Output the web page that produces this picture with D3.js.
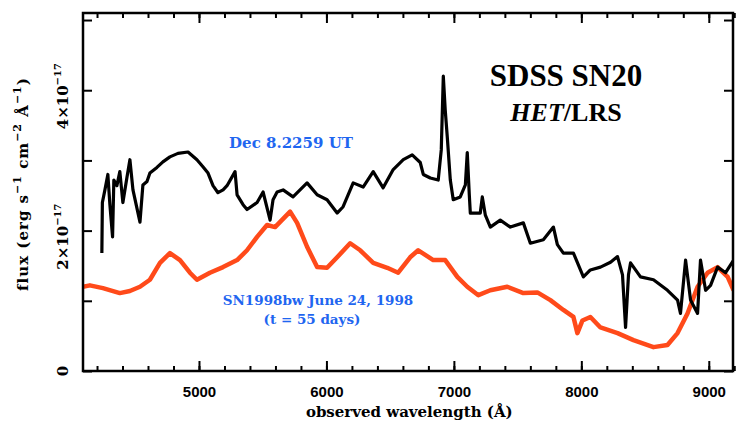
<!DOCTYPE html>
<html lang="en">
<head>
    <meta charset="UTF-8">
    <title>SDSS SN20 HET/LRS spectrum</title>
    <script src="https://d3js.org/d3.v7.min.js"></script>
    <style>
        body {
            margin: 0;
            padding: 0;
            background: #fff;
            overflow: hidden;
        }
        svg {
            display: block;
            font-family: "DejaVu Serif", serif;
        }
        .tick text {
            font-weight: bold;
        }
    </style>
</head>
<body>
    <svg id="chart" width="736" height="425"></svg>

    <script>
        // SDSS SN20 (black), wavelength in Angstrom, flux in units of 1e-17
        const sn20Wave = [4238, 4242, 4262, 4285, 4301, 4322, 4332, 4356, 4379, 4403, 4434, 4458, 4482, 4537,
            4560, 4592, 4615, 4670, 4717, 4772, 4835, 4914, 4984, 5031, 5071, 5110, 5149, 5189, 5220, 5283,
            5299, 5346, 5377, 5456, 5503, 5558, 5581, 5613, 5660, 5738, 5848, 5927, 6005, 6084, 6131, 6210,
            6288, 6367, 6445, 6524, 6603, 6673, 6736, 6760, 6815, 6877, 6901, 6917, 6932, 6948, 6972, 6995,
            7050, 7090, 7105, 7121, 7129, 7207, 7223, 7247, 7286, 7364, 7443, 7545, 7600, 7702, 7781, 7812,
            7859, 7938, 8016, 8071, 8150, 8229, 8284, 8323, 8347, 8370, 8386, 8464, 8566, 8676, 8755, 8778,
            8818, 8857, 8912, 8935, 8975, 9014, 9069, 9132, 9195];
        const sn20Flux = [1.68, 2.40, 2.58, 2.80, 2.37, 1.91, 2.72, 2.64, 2.84, 2.40, 2.75, 3.01, 2.58, 2.12,
            2.65, 2.70, 2.82, 2.90, 2.98, 3.05, 3.10, 3.12, 3.01, 2.91, 2.82, 2.64, 2.54, 2.58, 2.64, 2.84,
            2.51, 2.37, 2.30, 2.40, 2.55, 2.15, 2.44, 2.55, 2.58, 2.48, 2.68, 2.51, 2.44, 2.25, 2.34, 2.68,
            2.62, 2.84, 2.61, 2.87, 3.01, 3.08, 2.97, 2.80, 2.75, 2.72, 3.15, 4.20, 3.72, 3.34, 2.72, 2.44,
            2.48, 2.65, 3.11, 2.51, 2.25, 2.25, 2.48, 2.22, 2.05, 2.15, 2.05, 2.11, 1.82, 1.87, 2.05, 1.80,
            1.68, 1.68, 1.34, 1.44, 1.48, 1.55, 1.63, 1.37, 0.62, 1.37, 1.54, 1.34, 1.30, 1.15, 1.01, 0.82,
            1.58, 1.01, 0.82, 1.58, 1.15, 1.22, 1.48, 1.40, 1.58];

        // SN1998bw template (red)
        const bwWave = [4089, 4144, 4246, 4379, 4458, 4537, 4615, 4694, 4772, 4851, 4929, 4984, 5086, 5189,
            5299, 5377, 5456, 5534, 5597, 5715, 5770, 5848, 5927, 6005, 6084, 6186, 6265, 6367, 6477, 6563,
            6657, 6720, 6838, 6932, 7027, 7105, 7192, 7286, 7419, 7545, 7655, 7757, 7859, 7938, 7969, 8009,
            8071, 8150, 8284, 8409, 8566, 8676, 8755, 8833, 8912, 8991, 9069, 9148, 9195];
        const bwFlux = [1.20, 1.22, 1.18, 1.11, 1.14, 1.20, 1.30, 1.54, 1.68, 1.58, 1.40, 1.30, 1.40, 1.48,
            1.58, 1.72, 1.91, 2.08, 2.05, 2.27, 2.11, 1.77, 1.48, 1.47, 1.62, 1.82, 1.72, 1.54, 1.47, 1.40,
            1.62, 1.72, 1.58, 1.58, 1.34, 1.20, 1.08, 1.15, 1.20, 1.11, 1.12, 1.01, 0.87, 0.77, 0.54, 0.72,
            0.77, 0.62, 0.54, 0.44, 0.34, 0.37, 0.54, 0.82, 1.20, 1.40, 1.48, 1.34, 1.15];

        const xMajor = [5000, 6000, 7000, 8000, 9000];
        const xMinor = d3.range(4200, 9201, 200);
        const yMajor = [0, 1, 2, 3, 4, 5];
        const yLabels = {0: "0", 2: "2×10", 4: "4×10"};

        const width = 736, height = 425;
        const margin = { top: 13, right: 3, bottom: 54, left: 83 };
        const svg = d3.select("#chart");

        const x = d3.scaleLinear().domain([4090, 9190]).range([margin.left, width - margin.right]);
        const y = d3.scaleLinear().domain([0, 5.1]).range([height - margin.bottom, margin.top]);

        const plotW = width - margin.left - margin.right;
        const plotH = height - margin.top - margin.bottom;

        svg.append("defs").append("clipPath").attr("id", "clip")
            .append("rect")
            .attr("x", margin.left).attr("y", margin.top)
            .attr("width", plotW).attr("height", plotH);

        // data lines
        const line = d3.line().x(d => x(d[0])).y(d => y(d[1]));

        svg.append("path")
            .datum(d3.zip(bwWave, bwFlux))
            .attr("clip-path", "url(#clip)")
            .attr("fill", "none")
            .attr("stroke", "#ff4a1a")
            .attr("stroke-width", 4.5)
            .attr("stroke-linejoin", "round")
            .attr("d", line);

        svg.append("path")
            .datum(d3.zip(sn20Wave, sn20Flux))
            .attr("clip-path", "url(#clip)")
            .attr("fill", "none")
            .attr("stroke", "#000")
            .attr("stroke-width", 3.2)
            .attr("stroke-linejoin", "round")
            .attr("d", line);

        // axes: ticks point inward on all four sides
        function styleAxis(g) {
            g.select(".domain").remove();
            g.selectAll(".tick line").attr("stroke", "#000").attr("stroke-width", 2);
        }

        const yBottom = height - margin.bottom;
        const xRight = width - margin.right;

        svg.append("g").attr("transform", `translate(0,${yBottom})`)
            .call(d3.axisBottom(x).tickValues(xMinor).tickSize(-5).tickFormat(""))
            .call(styleAxis);
        svg.append("g").attr("transform", `translate(0,${yBottom})`)
            .call(d3.axisBottom(x).tickValues(xMajor).tickSize(-10).tickPadding(15).tickFormat(d3.format("d")))
            .call(styleAxis)
            .call(g => g.selectAll(".tick text").attr("font-size", 15).attr("fill", "#000"));

        svg.append("g").attr("transform", `translate(0,${margin.top})`)
            .call(d3.axisTop(x).tickValues(xMinor).tickSize(-5).tickFormat(""))
            .call(styleAxis);
        svg.append("g").attr("transform", `translate(0,${margin.top})`)
            .call(d3.axisTop(x).tickValues(xMajor).tickSize(-10).tickFormat(""))
            .call(styleAxis);

        svg.append("g").attr("transform", `translate(${margin.left},0)`)
            .call(d3.axisLeft(y).tickValues(yMajor).tickSize(-9).tickFormat(""))
            .call(styleAxis);
        svg.append("g").attr("transform", `translate(${xRight},0)`)
            .call(d3.axisRight(y).tickValues(yMajor).tickSize(-9).tickFormat(""))
            .call(styleAxis);

        // y tick labels, rotated
        const yLab = svg.append("g").attr("font-weight", "bold").attr("font-size", 15);
        Object.keys(yLabels).forEach(k => {
            const v = +k;
            const t = yLab.append("text")
                .attr("transform", `translate(68,${y(v) + (v === 0 ? 0 : 6)}) rotate(-90)`)
                .attr("text-anchor", "middle");
            t.append("tspan").text(yLabels[k]);
            if (v !== 0) {
                t.append("tspan").attr("font-size", 10).attr("dy", -7).text("−17");
            }
        });

        // frame
        svg.append("rect")
            .attr("x", margin.left).attr("y", margin.top)
            .attr("width", plotW).attr("height", plotH)
            .attr("fill", "none").attr("stroke", "#000").attr("stroke-width", 2.5);

        // axis titles
        svg.append("text")
            .attr("x", x(6650)).attr("y", 417)
            .attr("text-anchor", "middle")
            .attr("font-weight", "bold").attr("font-size", 15)
            .text("observed wavelength (Å)");

        const yTitle = svg.append("text")
            .attr("transform", `translate(28,${margin.top + plotH / 2 - 8}) rotate(-90)`)
            .attr("text-anchor", "middle")
            .attr("font-weight", "bold").attr("font-size", 15)
            .attr("letter-spacing", 1);
        yTitle.append("tspan").text("flux (erg s");
        yTitle.append("tspan").attr("font-size", 11).attr("dy", -7).text("−1");
        yTitle.append("tspan").attr("dy", 7).text(" cm");
        yTitle.append("tspan").attr("font-size", 11).attr("dy", -7).text("−2");
        yTitle.append("tspan").attr("dy", 7).text(" Å");
        yTitle.append("tspan").attr("font-size", 11).attr("dy", -7).text("−1");
        yTitle.append("tspan").attr("dy", 7).text(")");

        // title block
        svg.append("text")
            .attr("x", 566).attr("y", 86)
            .attr("text-anchor", "middle")
            .attr("font-family", "Liberation Serif, serif")
            .attr("font-weight", "bold").attr("font-size", 31)
            .text("SDSS SN20");
        const sub = svg.append("text")
            .attr("x", 566).attr("y", 121)
            .attr("text-anchor", "middle")
            .attr("font-family", "Liberation Serif, serif")
            .attr("font-weight", "bold").attr("font-size", 26);
        sub.append("tspan").attr("font-style", "italic").text("HET");
        sub.append("tspan").text("/LRS");

        // annotations
        svg.append("text")
            .attr("x", 291).attr("y", 148)
            .attr("text-anchor", "middle")
            .attr("fill", "#1f66f0")
            .attr("font-weight", "bold").attr("font-size", 15)
            .text("Dec 8.2259 UT");

        svg.append("text")
            .attr("x", 318).attr("y", 305)
            .attr("text-anchor", "middle")
            .attr("fill", "#1f66f0")
            .attr("font-weight", "bold").attr("font-size", 13.5)
            .text("SN1998bw June 24, 1998");
        svg.append("text")
            .attr("x", 312).attr("y", 324)
            .attr("text-anchor", "middle")
            .attr("fill", "#1f66f0")
            .attr("font-weight", "bold").attr("font-size", 13.5)
            .text("(t = 55 days)");
    </script>
</body>
</html>
